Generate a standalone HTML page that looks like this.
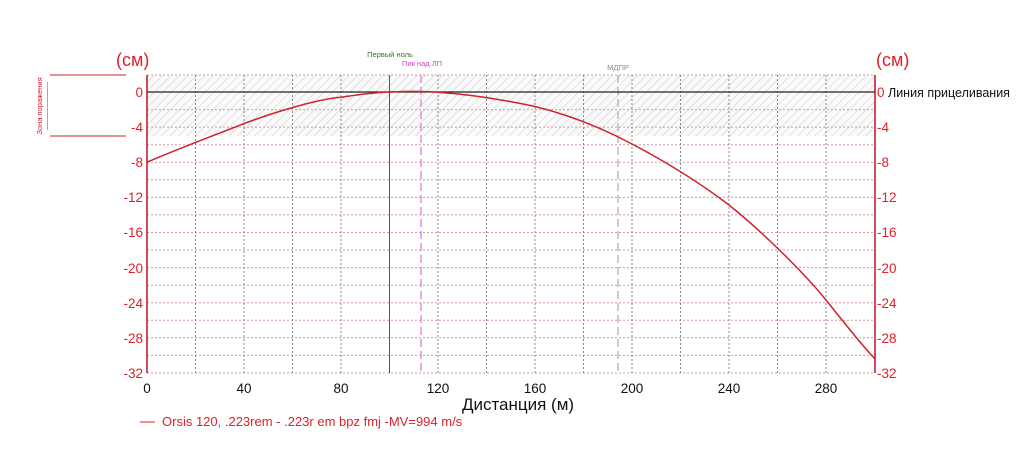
<!DOCTYPE html>
<html><head><meta charset="utf-8"><style>
html,body{margin:0;padding:0;background:#fff;width:1024px;height:461px;overflow:hidden}
svg{display:block}
text{font-family:"Liberation Sans",sans-serif}
</style></head><body>
<svg width="1024" height="461" viewBox="0 0 1024 461" xmlns="http://www.w3.org/2000/svg">
<defs>
<pattern id="h" width="6" height="6" patternUnits="userSpaceOnUse" patternTransform="rotate(45)">
<rect width="6" height="6" fill="#fafafa"/>
<line x1="0" y1="0" x2="0" y2="6" stroke="#c8c8c8" stroke-width="1"/>
</pattern>
</defs>
<rect x="147" y="75" width="728" height="61" fill="url(#h)"/>
<g stroke="#d49aa2" stroke-width="1" stroke-dasharray="2,2">
<line x1="147" y1="75" x2="875" y2="75"/>
<line x1="147" y1="109.6" x2="875" y2="109.6"/><line x1="147" y1="127.1" x2="875" y2="127.1"/>
<line x1="147" y1="144.7" x2="875" y2="144.7"/><line x1="147" y1="162.2" x2="875" y2="162.2"/>
<line x1="147" y1="179.8" x2="875" y2="179.8"/><line x1="147" y1="197.4" x2="875" y2="197.4"/>
<line x1="147" y1="214.9" x2="875" y2="214.9"/><line x1="147" y1="232.5" x2="875" y2="232.5"/>
<line x1="147" y1="250" x2="875" y2="250"/><line x1="147" y1="267.6" x2="875" y2="267.6"/>
<line x1="147" y1="285.2" x2="875" y2="285.2"/><line x1="147" y1="302.7" x2="875" y2="302.7"/>
<line x1="147" y1="320.3" x2="875" y2="320.3"/><line x1="147" y1="337.8" x2="875" y2="337.8"/>
<line x1="147" y1="355.4" x2="875" y2="355.4"/><line x1="147" y1="373" x2="875" y2="373"/>
</g>
<g stroke="#888" stroke-width="1" stroke-dasharray="2,2">
<line x1="195.5" y1="75" x2="195.5" y2="373"/><line x1="244" y1="75" x2="244" y2="373"/>
<line x1="292.5" y1="75" x2="292.5" y2="373"/><line x1="341" y1="75" x2="341" y2="373"/>
<line x1="438" y1="75" x2="438" y2="373"/><line x1="486.5" y1="75" x2="486.5" y2="373"/>
<line x1="535" y1="75" x2="535" y2="373"/><line x1="583.5" y1="75" x2="583.5" y2="373"/>
<line x1="632" y1="75" x2="632" y2="373"/><line x1="680.5" y1="75" x2="680.5" y2="373"/>
<line x1="729" y1="75" x2="729" y2="373"/><line x1="777.5" y1="75" x2="777.5" y2="373"/>
<line x1="826" y1="75" x2="826" y2="373"/>
</g>
<line x1="389.5" y1="75" x2="389.5" y2="373" stroke="#555" stroke-width="1"/>
<line x1="421" y1="75" x2="421" y2="373" stroke="#e070e0" stroke-width="1.2" stroke-dasharray="8,4"/>
<line x1="618" y1="75" x2="618" y2="373" stroke="#999" stroke-width="1" stroke-dasharray="8,4"/>
<line x1="147" y1="92" x2="875" y2="92" stroke="#222" stroke-width="1.3"/>
<line x1="147" y1="75" x2="147" y2="373" stroke="#c0102a" stroke-width="1.5"/>
<line x1="875" y1="75" x2="875" y2="373" stroke="#c0102a" stroke-width="1.5"/>
<path d="M147,162.2 C180,148 215,135 244,123.6 C280,110 320,99 341,97.3 C365,93.5 380,92.3 389.5,92 C405,91.3 425,91.2 438,92.2 C465,94 500,99 535,106.5 C570,115 600,127 632,144 C670,164 700,183 729,205 C770,238 810,280 826,300 C850,330 862,345 875,359"
 fill="none" stroke="#d0202a" stroke-width="1.5"/>
<g fill="#e0202a" font-size="13.5" text-anchor="end">
<text x="143" y="97">0</text><text x="143" y="132">-4</text><text x="143" y="167">-8</text>
<text x="143" y="202">-12</text><text x="143" y="237">-16</text><text x="143" y="273">-20</text>
<text x="143" y="308">-24</text><text x="143" y="343">-28</text><text x="143" y="378">-32</text>
</g>
<g fill="#e0202a" font-size="13.5">
<text x="877" y="97">0</text><text x="877" y="132">-4</text><text x="877" y="167">-8</text>
<text x="877" y="202">-12</text><text x="877" y="237">-16</text><text x="877" y="273">-20</text>
<text x="877" y="308">-24</text><text x="877" y="343">-28</text><text x="877" y="378">-32</text>
</g>
<text x="888" y="97" font-size="12.5" fill="#111">Линия прицеливания</text>
<text x="116" y="66" font-size="18" fill="#e0202a">(см)</text>
<text x="876" y="66" font-size="18" fill="#e0202a">(см)</text>
<g fill="#111" font-size="13.5" text-anchor="middle">
<text x="147" y="393">0</text><text x="244" y="393">40</text><text x="341" y="393">80</text>
<text x="438" y="393">120</text><text x="535" y="393">160</text><text x="632" y="393">200</text>
<text x="729" y="393">240</text><text x="826" y="393">280</text>
</g>
<text x="518" y="410" font-size="17" fill="#111" text-anchor="middle">Дистанция (м)</text>
<line x1="140" y1="422" x2="155" y2="422" stroke="#e0202a" stroke-width="1"/>
<text x="162" y="426" font-size="13" fill="#e0202a">Orsis 120, .223rem - .223r em bpz fmj -MV=994 m/s</text>
<text x="390" y="57" font-size="7.5" fill="#2a7a2a" text-anchor="middle">Первый ноль</text>
<text x="422" y="66" font-size="7.5" fill="#d040d0" text-anchor="middle">Пик над ЛП</text>
<text x="618" y="70" font-size="7.5" fill="#888" text-anchor="middle">МДПР</text>
<line x1="50" y1="75" x2="126" y2="75" stroke="#d0202a" stroke-width="1"/>
<line x1="50" y1="136" x2="126" y2="136" stroke="#d0202a" stroke-width="1"/>
<line x1="47.5" y1="82" x2="47.5" y2="130" stroke="#aaa" stroke-width="1"/>
<text transform="translate(42,106) rotate(-90)" font-size="7.5" fill="#d0202a" text-anchor="middle">Зона поражения</text>
</svg>
</body></html>
